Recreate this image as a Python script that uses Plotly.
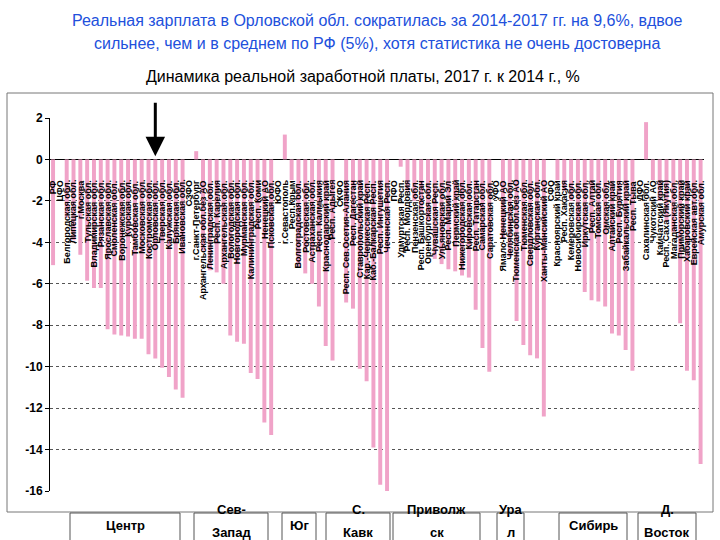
import plotly.graph_objects as go

regions = [
    "РФ", "ЦФО", "Белгородская обл.", "Липецкая обл.", "г.Москва", "Тульская обл.",
    "Владимирская обл.", "Рязанская обл.", "Ярославская обл.", "Смоленская обл.",
    "Воронежская обл.", "Курская обл.", "Тамбовская обл.", "Московская обл.",
    "Костромская обл.", "Орловская обл.", "Тверская обл.", "Калужская обл.",
    "Брянская обл.", "Ивановская обл.",
    "СЗФО", "г.Санкт-Петербург", "Архангельская обл.без АО", "Ленинградская обл.",
    "Респ. Карелия", "Архангельская обл.", "Вологодская обл.", "Новгородская обл.",
    "Мурманская обл.", "Калининградская обл.", "Респ. Коми", "Ненецкий АО", "Псковская обл.",
    "ЮФО", "г.Севастополь", "Респ.Крым", "Волгоградская обл.", "Ростовская обл.",
    "Астраханская обл.", "Респ. Калмыкия", "Краснодарский край", "Респ. Адыгея",
    "СКФО", "Респ. Сев.Осетия-Алания", "Респ. Дагестан", "Ставропольский край",
    "Кар.-Черкесская Респ.", "Каб.-Балкарская Респ.", "Респ. Ингушетия", "Чеченская Респ.",
    "ПФО", "Удмуртская Респ.", "Респ. Мордовия", "Пензенская обл.", "Респ. Башкортостан",
    "Оренбургская обл.", "Чувашская Респ.", "Ульяновская обл.", "Респ. Марий Эл",
    "Пермский край", "Нижегородская обл.", "Кировская обл.", "Респ. Татарстан",
    "Самарская обл.", "Саратовская обл.",
    "УФО", "Ямало-Ненецкий АО", "Челябинская обл.", "Тюменская обл.без АО",
    "Тюменская обл.", "Свердловская обл.", "Курганская обл.", "Ханты-Мансийский АО",
    "СФО", "Красноярский край", "Респ. Хакасия", "Кемеровская обл.", "Новосибирская обл.",
    "Иркутская обл.", "Респ. Алтай", "Томская обл.", "Омская обл.", "Алтайский край",
    "Респ. Бурятия", "Забайкальский край", "Респ. Тыва",
    "ДФО", "Сахалинская обл.", "Чукотский АО", "Камчатский край", "Респ. Саха (Якутия)",
    "Магаданская обл.", "Приморский край", "Хабаровский край", "Еврейская авт.обл.",
    "Амурская обл.",
]

change_pct = [
    -5.1, None, -2.8, -3.9, -4.6, -5.85, -6.2, -6.2, -8.2, -8.45,
    -8.5, -8.55, -8.65, -8.65, -9.4, -9.6, -10.05, -10.5, -11.1, -11.5,
    None, 0.4, -4.4, -5.35, -5.45, -6.0, -8.5, -8.8, -8.9, -10.3, -10.6, -12.7, -13.3,
    None, 1.2, -1.0, -5.15, -5.5, -6.0, -7.1, -9.0, -9.7,
    None, -6.9, -7.2, -10.1, -10.7, -13.9, -15.7, -16.05,
    None, -0.35, -1.5, -2.0, -2.5, -3.0, -4.8, -5.05, -5.3, -5.4, -5.6, -5.7, -7.25, -9.1, -10.25,
    None, -3.8, -4.7, -7.8, -8.95, -9.45, -9.6, -12.4,
    None, -1.0, -1.5, -2.0, -3.0, -6.4, -6.8, -6.85, -7.1, -8.4, -8.5, -9.2, -10.2,
    None, 1.8, -1.0, -2.0, -3.0, -3.5, -7.9, -10.2, -10.65, -14.7,
]

y_ticks = [2, 0, -2, -4, -6, -8, -10, -12, -14, -16]

groups = [["Центр"], ["Сев-", "Запад"], ["Юг"], ["С.", "Кавк"], ["Приволж", "ск"],
          ["Ура", "л"], ["Сибирь"], ["Д.", "Восток"]]
group_px = [(70, 180), (194, 268), (282, 316), (326, 390), (393, 480), (497, 524), (559, 627), (638, 696)]

W, H = 720, 540
L, R, T, B = 50, 16, 118, 49
pw, ph = W - L - R, H - T - B


def px_x(x):
    return (x - L) / pw


def px_y(y):
    return (H - B - y) / ph


fig = go.Figure()
fig.add_trace(go.Bar(
    x=regions, y=change_pct,
    marker=dict(color="#F0A3C8", line=dict(width=0)),
    hoverinfo="x+y",
))

ann = []
for r in regions:
    ann.append(dict(
        x=r, y=-0.9, xref="x", yref="y", text="<b>" + r + "</b>",
        textangle=-90, showarrow=False, xanchor="center", yanchor="top",
        font=dict(family="Liberation Sans, Arial", size=9, color="black"),
    ))

# title lines
ann.append(dict(x=0.5, y=px_y(20), xref="paper", yref="paper", showarrow=False,
                text="Реальная зарплата в Орловской обл. сократилась за 2014-2017 гг. на 9,6%, вдвое",
                font=dict(family="Liberation Sans, Arial", size=16, color="#2150DC"),
                xanchor="center", yanchor="middle"))
ann.append(dict(x=0.5, y=px_y(43), xref="paper", yref="paper", showarrow=False,
                text="сильнее, чем и в среднем по РФ (5%), хотя статистика не очень достоверна",
                font=dict(family="Liberation Sans, Arial", size=16, color="#2150DC"),
                xanchor="center", yanchor="middle"))
ann.append(dict(x=px_x(363), y=px_y(77), xref="paper", yref="paper", showarrow=False,
                text="Динамика реальной заработной платы, 2017 г. к 2014 г., %",
                font=dict(family="Liberation Sans, Arial", size=16, color="black"),
                xanchor="center", yanchor="middle"))

# arrow pointing at Орловская обл.
ann.append(dict(x="Орловская обл.", y=0.15, xref="x", yref="y", text="",
                showarrow=True, arrowhead=2, arrowsize=1.3, arrowwidth=3,
                arrowcolor="black", ax=0, ay=-55))

shapes = []
# chart area border
shapes.append(dict(type="rect", xref="paper", yref="paper",
                   x0=px_x(7), x1=px_x(713), y0=px_y(512), y1=px_y(93),
                   line=dict(color="#777777", width=1), layer="below"))

# group boxes at the bottom
for g, (a, b) in zip(groups, group_px):
    shapes.append(dict(type="rect", xref="paper", yref="paper",
                       x0=px_x(a), x1=px_x(b), y0=px_y(548), y1=px_y(513),
                       line=dict(color="#555555", width=1)))
    ys = [525] if len(g) == 1 else [509, 532]
    for line_text, yy in zip(g, ys):
        ann.append(dict(x=px_x((a + b) / 2), y=px_y(yy), xref="paper", yref="paper",
                        text="<b>" + line_text + "</b>", showarrow=False,
                        xanchor="center", yanchor="middle",
                        font=dict(family="Liberation Sans, Arial", size=13, color="black")))

fig.update_layout(
    width=W, height=H,
    margin=dict(l=L, r=R, t=T, b=B, pad=0),
    paper_bgcolor="white", plot_bgcolor="white",
    showlegend=False, bargap=0.42,
    annotations=ann, shapes=shapes,
    font=dict(family="Liberation Sans, Arial"),
)
fig.update_xaxes(type="category", range=[-0.45, len(regions) - 0.5],
                 showticklabels=False, showgrid=False, ticks="", showline=False,
                 zeroline=False)
fig.update_yaxes(range=[-16, 2], tickvals=y_ticks, ticktext=["<b>%d</b>" % v for v in y_ticks],
                 tickfont=dict(size=12, color="black"),
                 showgrid=True, gridcolor="#555555", griddash="dot", gridwidth=1,
                 zeroline=True, zerolinecolor="black", zerolinewidth=1,
                 showline=True, linecolor="black", linewidth=1, ticks="outside",
                 ticklen=4, tickcolor="black")

fig.write_html("out.html", config={"displayModeBar": False},
               post_script="document.body.style.margin='0';")
